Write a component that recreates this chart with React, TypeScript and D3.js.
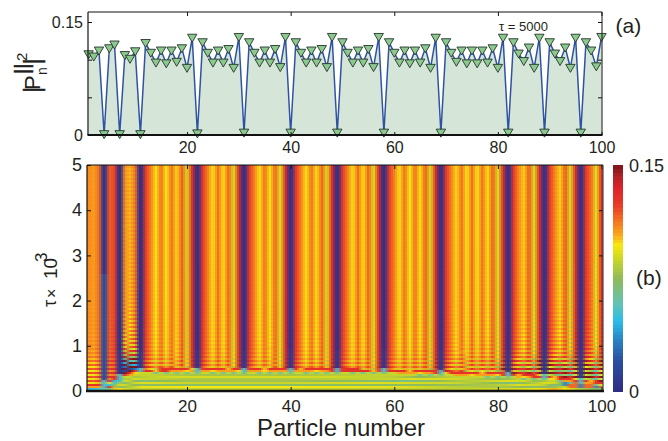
import React, { useEffect, useRef } from "react";
import * as d3 from "d3";

const W = 668, H = 441;
const FONT = "'Liberation Sans', Arial, sans-serif";
const TXT = "#231f20";

// |P_n|^2 at tau = 5000, particle 1..100
const finalProfile = [
  .107,.104,.112,.001,.115,.120,.001,.106,.101,.111,
  .001,.122,.109,.096,.112,.095,.112,.097,.115,.089,
  .129,.002,.123,.109,.096,.112,.096,.114,.089,.130,
  .003,.123,.109,.096,.112,.096,.114,.090,.130,.003,
  .123,.109,.096,.112,.096,.114,.090,.130,.003,.123,
  .109,.096,.112,.096,.114,.090,.130,.003,.123,.109,
  .096,.112,.095,.112,.096,.115,.089,.129,.003,.123,
  .109,.097,.112,.095,.112,.095,.112,.096,.115,.089,
  .129,.003,.123,.108,.098,.116,.089,.129,.003,.123,
  .108,.098,.116,.089,.129,.003,.123,.112,.091,.130,
];
const particleTicks = [20, 40, 60, 80, 100];
const powerTicks = [0, 0.05, 0.1, 0.15];
const tauTicks = [0, 1, 2, 3, 4, 5];

// colour bar
const colorValues = [0, .02, .035, .047, .058, .075, .09, .097, .104, .113, .124, .135, .143, .15];
const colorHexes = ["#2f2c85", "#2b4ea0", "#2a86c6", "#2cbdea", "#62c3b4", "#8fbc5a", "#d5db1f", "#f8e80f", "#faa81a", "#f47521", "#e93a27", "#dc2329", "#b02225", "#7c1416"];

// onset of the steady pattern: particle -> tau (x 10^3)
const onsetN = [1, 3, 5, 7, 11, 20, 40, 60, 70, 82, 89, 96, 100];
const onsetTau = [.06, .08, .17, .28, .40, .42, .42, .40, .36, .32, .26, .17, .13];
// horizontal stripes under the onset, bottom to top (one value per 0.025 of tau)
const stripeValues = [.086, .086, .086, .104, .084, .072, .076, .092, .088, .066, .08, .092, .09, .074, .086, .088];
// how strongly the ripple shows against tau
const rippleTau = [0, .45, .6, .8, 1, 1.4, 2, 3, 5];
const rippleAmp = [.018, .018, .012, .005, .0025, .0012, .0005, .0003, .0002];
// ripple strength along the chain
const rippleN = [1, 7, 8, 10, 12, 20, 60, 80, 90, 100];
const rippleGain = [.7, .5, 5, 5, .8, .5, .5, 1, 2, 2];

const heatGain = 1.02;
const dipEase = 1.5;

const xTop = d3.scaleLinear().domain([1, 100]).range([88.6, 601.5]);
const yTop = d3.scaleLinear().domain([0, 0.15]).range([135, 22]);
const xHeat = d3.scaleLinear().domain([1, 100]).range([88.6, 601.5]);
const yHeat = d3.scaleLinear().domain([0, 5]).range([391, 165]);
const yBar = d3.scaleLinear().domain([0, 0.15]).range([391, 165]);
const color = d3.scaleLinear<string>().domain(colorValues).range(colorHexes).clamp(true);
const onset = d3.scaleLinear().domain(onsetN).range(onsetTau);
const ampOf = d3.scaleLinear().domain(rippleTau).range(rippleAmp).clamp(true);
const gainOf = d3.scaleLinear().domain(rippleN).range(rippleGain);

const valueAt = (n: number, tau: number) => {
  const base = finalProfile[n - 1];
  const top = onset(n);
  if (tau < top) {
    const pos = (tau / top) * stripeValues.length;
    const k = Math.min(stripeValues.length - 1, Math.floor(pos));
    const a = stripeValues[k];
    const b = stripeValues[Math.min(stripeValues.length - 1, k + 1)];
    let v = a + (b - a) * (pos - k);
    if (n <= 5 && tau < 0.1) v = tau < 0.05 ? 0.04 + n * 0.005 : 0.128;
    if (n >= 4 && n <= 7 && tau > top - 0.07) v = 0.05;
    if (n >= 93 && tau > top * 0.45) v = n % 3 === 0 ? 0.035 : 0.115;
    if (n > 11 && base < 0.1 && tau > top - 0.03) v = 0.062;
    return v;
  }
  if (base < 0.02) {
    if (tau < top + 0.1) return 0.052;
    if (n === 4) return tau < 2.6 ? 0.018 : 0.004;
    return tau < 0.9 ? 0.006 : base;
  }
  if (tau < top + 0.03) return n % 5 === 0 ? 0.098 : 0.106;
  if (tau < top + 0.08) return n % 7 === 0 ? 0.1 : 0.128;
  const slant = n < 20 ? n * 0.005 : n * 0.0012;
  const idx = Math.floor((tau - slant) / 0.0443);
  const offset = idx % 2 === 0 ? 1 : -1;
  return base * heatGain + ampOf(tau) * gainOf(n) * offset;
};

export default function App() {
  const ref = useRef<SVGSVGElement | null>(null);
  useEffect(() => {
    const svg = d3.select(ref.current!);
    svg.selectAll("*").remove();

    // ---------- heat map ----------
    const heat = svg.append("g").attr("shape-rendering", "crispEdges");
    const rows = d3.range(0, 5, 2 / 45.2);
    const subX = d3.range(87, 603, 2);
    for (const tau of rows) {
      const values = finalProfile.map((_, i) => valueAt(i + 1, tau));
      const colors = values.map(v => color(v));
      const yy = yHeat(tau);
      for (const px of subX) {
        const f = Math.max(0, Math.min(98.999, xHeat.invert(px + 1) - 1));
        const k = Math.floor(f);
        let t = f - k;
        if (values[k] < 0.025) t = Math.pow(t, dipEase);
        else if (values[k + 1] < 0.025) t = 1 - Math.pow(1 - t, dipEase);
        heat.append("rect").attr("x", px).attr("y", yy - 2).attr("width", 2).attr("height", 2.5)
          .attr("fill", d3.interpolateRgb(colors[k], colors[k + 1])(t));
      }
    }

    // ---------- colour bar ----------
    const levels = d3.range(0, 64);
    svg.append("g").attr("shape-rendering", "crispEdges").selectAll("rect").data(levels).join("rect")
      .attr("x", 613).attr("width", 10)
      .attr("y", d => yBar((d + 1) * 0.15 / 64))
      .attr("height", 226 / 64 + 0.6)
      .attr("fill", d => color((d + 0.5) * 0.15 / 64));

    // ---------- top panel ----------
    const top = svg.append("g");
    top.append("path")
      .attr("d", d3.area<number>().x((_, i) => xTop(i + 1)).y0(yTop(0)).y1(d => yTop(d))(finalProfile)!)
      .attr("fill", "#d5e6d9");
    top.append("path")
      .attr("d", d3.line<number>().x((_, i) => xTop(i + 1)).y(d => yTop(d))(finalProfile)!)
      .attr("fill", "none").attr("stroke", "#2f53a3").attr("stroke-width", 1.5);
    const tri = "M-4.7,-3.6L4.7,-3.6L0,4.4Z";
    top.selectAll("path.m").data(finalProfile).join("path").attr("class", "m")
      .attr("d", tri)
      .attr("transform", (d, i) => `translate(${xTop(i + 1)},${yTop(d)})`)
      .attr("fill", "#8cc98f").attr("stroke", "#24352a").attr("stroke-width", 0.9);

    const styleAxis = (g: any, size: number) => {
      g.select(".domain").remove();
      g.selectAll("line").attr("stroke", "#111").attr("stroke-width", 1);
      g.selectAll("text").attr("font-family", FONT).attr("font-size", size).attr("fill", TXT);
    };
    const noText = () => "";

    // top panel axes
    top.append("g").attr("transform", "translate(0,135)")
      .call(d3.axisBottom(xTop).tickValues(particleTicks).tickSizeInner(-3).tickSizeOuter(0).tickPadding(7))
      .call(styleAxis, 16);
    top.append("g").attr("transform", "translate(0,12)")
      .call(d3.axisTop(xTop).tickValues(particleTicks).tickFormat(noText as any).tickSizeInner(-4).tickSizeOuter(0))
      .call(styleAxis, 16);
    top.append("g").attr("transform", "translate(88,0)")
      .call(d3.axisLeft(yTop).tickValues(powerTicks).tickFormat((d: any) => (d === 0 ? "0" : d === 0.15 ? "0.15" : "")).tickSizeInner(-4).tickSizeOuter(0).tickPadding(5))
      .call(styleAxis, 16);
    top.append("g").attr("transform", "translate(602,0)")
      .call(d3.axisRight(yTop).tickValues(powerTicks.slice(1)).tickFormat(noText as any).tickSizeInner(-4).tickSizeOuter(0))
      .call(styleAxis, 16);
    top.append("path").attr("d", "M88,12H602V135").attr("fill", "none").attr("stroke", "#111").attr("stroke-width", 1);
    top.append("path").attr("d", "M88,12V135").attr("fill", "none").attr("stroke", "#111").attr("stroke-width", 1.2);
    top.append("path").attr("d", "M87.5,135H602.5").attr("fill", "none").attr("stroke", "#111").attr("stroke-width", 2);

    // ---------- bottom panel axes ----------
    const bot = svg.append("g");
    bot.append("g").attr("transform", "translate(0,391)")
      .call(d3.axisBottom(xHeat).tickValues(particleTicks).tickSizeInner(-4).tickSizeOuter(0).tickPadding(9))
      .call(styleAxis, 17);
    bot.append("g").attr("transform", "translate(0,165)")
      .call(d3.axisTop(xHeat).tickValues(particleTicks).tickFormat(noText as any).tickSizeInner(-4).tickSizeOuter(0))
      .call(styleAxis, 17);
    bot.append("g").attr("transform", "translate(87,0)")
      .call(d3.axisLeft(yHeat).tickValues(tauTicks).tickFormat(d3.format("d") as any).tickSizeInner(-4).tickSizeOuter(0).tickPadding(5))
      .call(styleAxis, 18);
    bot.append("g").attr("transform", "translate(603,0)")
      .call(d3.axisRight(yHeat).tickValues(tauTicks.slice(1, -1)).tickFormat(noText as any).tickSizeInner(-4).tickSizeOuter(0))
      .call(styleAxis, 17);
    bot.append("path").attr("d", "M87,165H603").attr("fill", "none").attr("stroke", "#111").attr("stroke-width", 1);
    bot.append("path").attr("d", "M603,165V391").attr("fill", "none").attr("stroke", "#444").attr("stroke-width", 1.2);
    bot.append("path").attr("d", "M87,165V391").attr("fill", "none").attr("stroke", "#111").attr("stroke-width", 1.2);
    bot.append("path").attr("d", "M86,391H604").attr("fill", "none").attr("stroke", "#111").attr("stroke-width", 2.4);

    // ---------- free text ----------
    const label = (x: number, y: number, s: string, size: number, rot = 0, anchor = "start") =>
      svg.append("text").attr("transform", `translate(${x},${y}) rotate(${rot})`)
        .attr("font-family", FONT).attr("font-size", size).attr("fill", TXT)
        .attr("text-anchor", anchor).text(s);
    label(341, 436, "Particle number", 24, 0, "middle");
    label(615.5, 33, "(a)", 21);
    label(636, 285, "(b)", 21);
    label(499, 31, "\u03c4 = 5000", 13);
    label(629, 172, "0.15", 18);
    label(629, 398, "0", 18);
    // |P||n|^2, rotated
    label(40, 93, "|", 24, -90).attr("stroke", TXT).attr("stroke-width", 0.5);
    label(40, 90, "P", 22, -90);
    label(29, 74, "||", 20, -90).attr("stroke", TXT).attr("stroke-width", 0.5);
    label(40, 64.5, "|", 24, -90).attr("stroke", TXT).attr("stroke-width", 0.5);
    label(47, 75, "n", 14, -90);
    label(27, 61, "2", 15, -90);
    // tau x 10^3, rotated
    label(56, 307, "\u03c4", 18, -90);
    label(57, 298, "\u00d7", 16, -90);
    label(57, 279, "10", 19, -90);
    label(47, 262, "3", 17, -90);
  }, []);
  return <svg ref={ref} width={W} height={H} style={{ position: "absolute", left: 0, top: 0, background: "#fff" }} />;
}
